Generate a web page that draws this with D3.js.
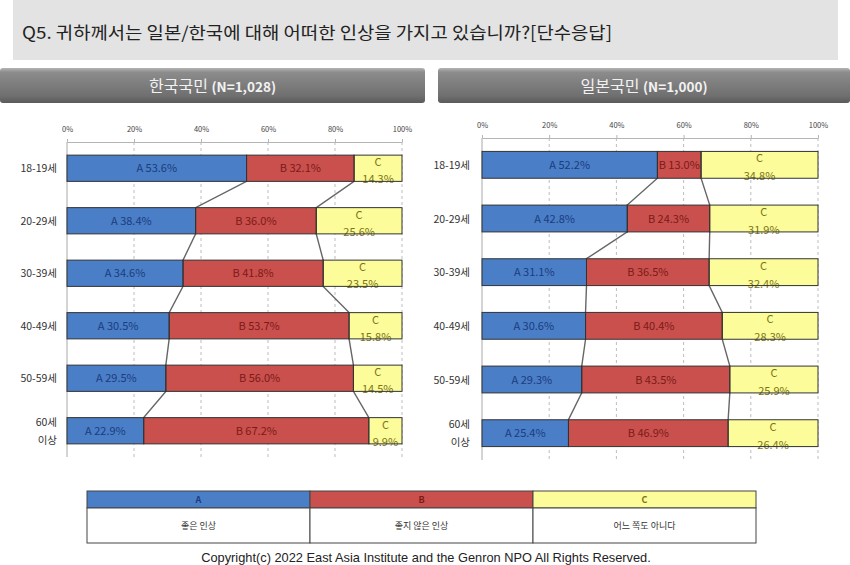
<!DOCTYPE html>
<html>
<head>
<meta charset="utf-8">
<script src="https://cdn.jsdelivr.net/npm/d3@7"></script>
<style>
  body { margin: 0; background: #fff; }
  svg { display: block; }
</style>
</head>
<body>
<div id="chart"></div>
<script>
var svgWidth = 850;
var svgHeight = 565;

// data
var ages = ["18-19세", "20-29세", "30-39세", "40-49세", "50-59세", "60세\n이상"];
var keys = ["A", "B", "C"];
var korA = [53.6, 38.4, 34.6, 30.5, 29.5, 22.9];
var korB = [32.1, 36.0, 41.8, 53.7, 56.0, 67.2];
var korC = [14.3, 25.6, 23.5, 15.8, 14.5, 9.9];
var japA = [52.2, 42.8, 31.1, 30.6, 29.3, 25.4];
var japB = [13.0, 24.3, 36.5, 40.4, 43.5, 46.9];
var japC = [34.8, 31.9, 32.4, 28.3, 25.9, 26.4];
var tickValues = [0, 0.2, 0.4, 0.6, 0.8, 1];
var legendLabels = ["좋은 인상", "좋지 않은 인상", "어느 쪽도 아니다"];
var titleText = "Q5. 귀하께서는 일본/한국에 대해 어떠한 인상을 가지고 있습니까?[단수응답]";
var copyrightText = "Copyright(c) 2022 East Asia Institute and the Genron NPO All Rights Reserved.";

var fill = { A: "#4a7ec6", B: "#c9504c", C: "#fcfc9a" };
var ink = { A: "#1b3c80", B: "#7c1a1a", C: "#7a7418" };
var kfont = "'Noto Sans CJK KR', 'Noto Sans', sans-serif";

var svg = d3.select("#chart")
  .append("svg")
  .attr("width", svgWidth)
  .attr("height", svgHeight)
  .style("font-family", kfont);

var defs = svg.append("defs");
var grad = defs.append("linearGradient")
  .attr("id", "tab")
  .attr("x1", 0).attr("y1", 0).attr("x2", 0).attr("y2", 1);
grad.append("stop").attr("offset", "0%").attr("stop-color", "#b4b4b4");
grad.append("stop").attr("offset", "12%").attr("stop-color", "#8c8c8c");
grad.append("stop").attr("offset", "80%").attr("stop-color", "#6f6f6f");
grad.append("stop").attr("offset", "100%").attr("stop-color", "#5a5a5a");

// title band
svg.append("rect")
  .attr("x", 13).attr("y", 0)
  .attr("width", 825).attr("height", 60)
  .attr("fill", "#e3e3e3");

svg.append("text")
  .attr("x", 22).attr("y", 39)
  .attr("font-size", "17px")
  .attr("textLength", 590)
  .attr("lengthAdjust", "spacingAndGlyphs")
  .attr("fill", "#222")
  .text(titleText);

// header tabs
var tabs = [
  { x: 0, w: 425, name: "한국국민", n: "(N=1,028)" },
  { x: 438, w: 412, name: "일본국민", n: "(N=1,000)" }
];

tabs.forEach(function(t) {
  svg.append("rect")
    .attr("x", t.x).attr("y", 68)
    .attr("width", t.w).attr("height", 35)
    .attr("rx", 3)
    .attr("fill", "url(#tab)");
  var label = svg.append("text")
    .attr("x", t.x + t.w / 2).attr("y", 92)
    .attr("text-anchor", "middle")
    .attr("fill", "#f2f2f2");
  label.append("tspan").attr("font-size", "16px").text(t.name + " ");
  label.append("tspan").attr("font-size", "13.5px").attr("font-weight", "bold").text(t.n);
});

function drawPanel(A, B, C, x0, x1, y0, y1, labelRight) {
  var rows = ages.map(function(a, i) {
    return { age: a, A: A[i], B: B[i], C: C[i] };
  });
  var series = d3.stack().keys(keys).offset(d3.stackOffsetExpand)(rows);

  var xScale = d3.scaleLinear().domain([0, 1]).range([x0, x1]);
  var yScale = d3.scaleBand().domain(ages).range([y0, y1])
    .paddingInner(0.5).paddingOuter(0.25);
  var bw = yScale.bandwidth();

  var g = svg.append("g");

  // grid lines
  g.selectAll(".grid")
    .data(tickValues.slice(1))
    .enter()
    .append("line")
    .attr("x1", d => xScale(d)).attr("x2", d => xScale(d))
    .attr("y1", y0).attr("y2", y1)
    .attr("stroke", "#bdbdbd")
    .attr("stroke-dasharray", "3,3");

  g.append("line")
    .attr("x1", x0).attr("x2", x0)
    .attr("y1", y0).attr("y2", y1)
    .attr("stroke", "#a8a8a8");

  var topAxis = d3.axisTop(xScale)
    .tickValues(tickValues)
    .tickFormat(d3.format(".0%"))
    .tickSize(3)
    .tickSizeOuter(0);

  var axisG = g.append("g")
    .attr("transform", `translate(0, ${y0})`)
    .call(topAxis);
  axisG.select(".domain").attr("stroke", "#b5b5b5");
  axisG.selectAll(".tick line").attr("stroke", "#b5b5b5");
  axisG.selectAll(".tick text")
    .attr("font-family", kfont)
    .attr("font-size", "7.5px")
    .attr("fill", "#444")
    .attr("dy", "-4");

  // connector lines between stacked boundaries
  [0, 1].forEach(function(k) {
    var pts = [];
    rows.forEach(function(r, i) {
      var xv = xScale(series[k][i][1]);
      var top = yScale(r.age);
      pts.push([xv, top]);
      pts.push([xv, top + bw]);
    });
    g.append("path")
      .attr("d", d3.line()(pts))
      .attr("fill", "none")
      .attr("stroke", "#666")
      .attr("stroke-width", 1.4);
  });

  // bars
  series.forEach(function(s) {
    g.append("g")
      .selectAll("rect")
      .data(s)
      .enter()
      .append("rect")
      .attr("x", d => xScale(d[0]))
      .attr("y", d => yScale(d.data.age))
      .attr("width", d => xScale(d[1]) - xScale(d[0]))
      .attr("height", bw)
      .attr("fill", fill[s.key]);
  });

  // bar labels
  series.forEach(function(s) {
    var lg = g.append("g")
      .attr("font-size", "11px")
      .attr("fill", ink[s.key])
      .attr("text-anchor", "middle");
    if (s.key === "C") {
      lg.selectAll("text.k")
        .data(s).enter().append("text")
        .attr("x", d => (xScale(d[0]) + xScale(d[1])) / 2)
        .attr("y", d => yScale(d.data.age) + 11)
        .text("C");
      lg.selectAll("text.v")
        .data(s).enter().append("text")
        .attr("x", d => (xScale(d[0]) + xScale(d[1])) / 2)
        .attr("y", d => yScale(d.data.age) + bw + 2)
        .text(d => d.data.C.toFixed(1) + "%");
    } else {
      lg.selectAll("text")
        .data(s).enter().append("text")
        .attr("x", d => (xScale(d[0]) + xScale(d[1])) / 2)
        .attr("y", d => yScale(d.data.age) + bw / 2 + 4)
        .text(d => s.key + " " + d.data[s.key].toFixed(1) + "%");
    }
  });

  // bar outlines on top
  series.forEach(function(s) {
    g.append("g")
      .selectAll("rect")
      .data(s)
      .enter()
      .append("rect")
      .attr("x", d => xScale(d[0]))
      .attr("y", d => yScale(d.data.age))
      .attr("width", d => xScale(d[1]) - xScale(d[0]))
      .attr("height", bw)
      .attr("fill", "none")
      .attr("stroke", "#333")
      .attr("stroke-width", 1);
  });

  // category labels
  ages.forEach(function(a) {
    var lines = a.split("\n");
    var cy = yScale(a) + bw / 2;
    var t = g.append("text")
      .attr("text-anchor", "end")
      .attr("font-size", "10.5px")
      .attr("fill", "#333");
    lines.forEach(function(l, j) {
      t.append("tspan")
        .attr("x", labelRight)
        .attr("y", cy + 4 + (j - (lines.length - 1) / 2) * 18)
        .text(l);
    });
  });
}

drawPanel(korA, korB, korC, 67, 402, 142, 457, 57);
drawPanel(japA, japB, japC, 482, 818, 138, 460, 470);

// legend table
var legX = d3.scaleBand().domain(keys).range([87, 756]);
var lg = svg.append("g");
lg.selectAll("rect.head")
  .data(keys).enter().append("rect")
  .attr("x", d => legX(d)).attr("y", 491)
  .attr("width", legX.bandwidth()).attr("height", 17)
  .attr("fill", d => fill[d])
  .attr("stroke", "#444");
lg.selectAll("rect.body")
  .data(keys).enter().append("rect")
  .attr("x", d => legX(d)).attr("y", 508)
  .attr("width", legX.bandwidth()).attr("height", 35)
  .attr("fill", "#fff")
  .attr("stroke", "#444");
lg.selectAll("text.head")
  .data(keys).enter().append("text")
  .attr("x", d => legX(d) + legX.bandwidth() / 2).attr("y", 503)
  .attr("text-anchor", "middle")
  .attr("font-size", "9px")
  .attr("font-weight", "bold")
  .attr("fill", d => ink[d])
  .text(d => d);
lg.selectAll("text.body")
  .data(legendLabels).enter().append("text")
  .attr("x", (d, i) => legX(keys[i]) + legX.bandwidth() / 2).attr("y", 529)
  .attr("text-anchor", "middle")
  .attr("font-size", "9px")
  .attr("fill", "#333")
  .text(d => d);

svg.append("text")
  .attr("x", 426).attr("y", 562)
  .attr("text-anchor", "middle")
  .attr("font-family", "'Liberation Sans', Arial, sans-serif")
  .attr("font-size", "12.8px")
  .attr("fill", "#222")
  .text(copyrightText);
</script>
</body>
</html>
